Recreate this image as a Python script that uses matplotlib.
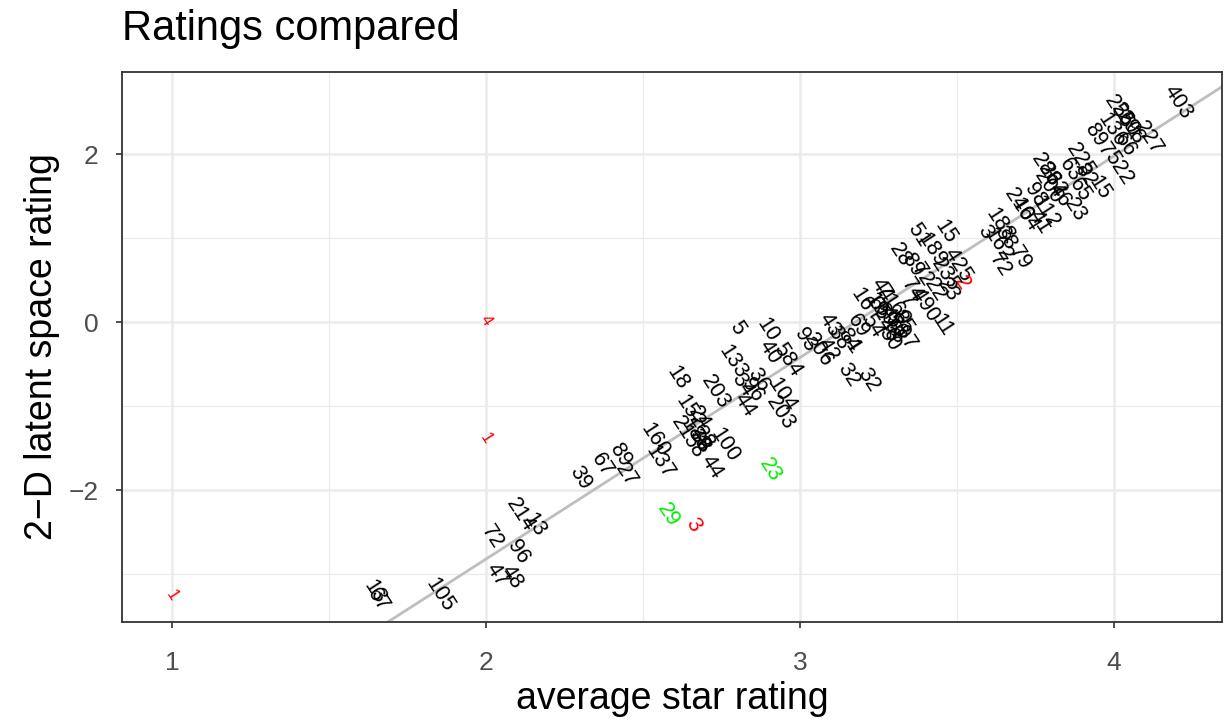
import numpy as np
import matplotlib.pyplot as plt
from matplotlib.ticker import MultipleLocator

plt.rcParams['font.family'] = ['Liberation Sans', 'DejaVu Sans']

# label text, average star rating, latent space rating, colour group
labels = ["403", "227", "255", "260", "298", "136", "66", "897", "522", "225",
          "63", "82", "15", "23", "65", "288", "262", "200", "46", "98",
          "112", "41", "240", "164", "188", "38", "3", "162", "79", "72",
          "15", "425", "2", "51", "189", "28", "89", "72", "235", "23",
          "22", "74", "490", "11", "16", "44", "19", "69", "97", "47",
          "56", "46", "65", "60", "58", "85", "30", "7", "54", "71",
          "43", "38", "84", "1", "42", "206", "93", "32", "32", "69",
          "5", "10", "40", "584", "133", "34", "96", "36", "44", "203",
          "104", "203", "18", "152", "24", "21", "188", "38", "58", "28",
          "100", "44", "160", "137", "89", "27", "67", "39", "23", "29",
          "3", "214", "13", "72", "96", "48", "47", "105", "13", "67",
          "1", "4", "1"]
star = [4.204, 4.108, 4.013, 4.035, 4.051, 3.994, 4.035, 3.949, 4.013, 3.892,
        3.860, 3.908, 3.955, 3.876, 3.892, 3.780, 3.803, 3.790, 3.828, 3.748,
        3.780, 3.764, 3.694, 3.717, 3.637, 3.653, 3.589, 3.630, 3.700, 3.637,
        3.462, 3.503, 3.516, 3.376, 3.420, 3.318, 3.357, 3.389, 3.462, 3.471,
        3.430, 3.357, 3.398, 3.452, 3.197, 3.261, 3.240, 3.270, 3.334, 3.290,
        3.305, 3.280, 3.250, 3.315, 3.300, 3.325, 3.285, 3.340, 3.230, 3.275,
        3.096, 3.121, 3.153, 3.166, 3.089, 3.057, 3.016, 3.153, 3.217, 3.185,
        2.799, 2.898, 2.904, 2.959, 2.787, 2.815, 2.847, 2.866, 2.825, 2.729,
        2.943, 2.936, 2.611, 2.650, 2.680, 2.624, 2.665, 2.680, 2.660, 2.690,
        2.761, 2.720, 2.538, 2.554, 2.427, 2.446, 2.369, 2.299, 2.904, 2.580,
        2.659, 2.108, 2.156, 2.019, 2.102, 2.083, 2.035, 1.854, 1.646, 1.656,
        1.000, 2.000, 2.000]
latent = [2.62, 2.19, 2.50, 2.40, 2.31, 2.29, 2.11, 2.17, 1.83, 1.93,
          1.81, 1.75, 1.60, 1.33, 1.57, 1.81, 1.69, 1.60, 1.51, 1.51,
          1.31, 1.19, 1.39, 1.27, 1.15, 1.00, 1.07, 0.92, 0.76, 0.68,
          1.07, 0.68, 0.46, 1.04, 0.86, 0.80, 0.68, 0.56, 0.56, 0.38,
          0.38, 0.38, 0.20, -0.04, 0.26, 0.38, 0.20, 0.08, -0.19, 0.05,
          -0.05, -0.10, 0.15, 0.10, -0.12, 0.00, -0.20, 0.25, -0.05, 0.30,
          -0.04, -0.19, -0.21, -0.30, -0.33, -0.33, -0.21, -0.63, -0.69, -0.05,
          -0.07, -0.10, -0.36, -0.45, -0.48, -0.75, -0.81, -0.69, -0.99, -0.83,
          -0.87, -1.08, -0.67, -1.07, -1.14, -1.26, -1.35, -1.42, -1.48, -1.38,
          -1.46, -1.73, -1.40, -1.67, -1.58, -1.82, -1.70, -1.86, -1.76, -2.30,
          -2.42, -2.30, -2.42, -2.56, -2.74, -3.04, -3.01, -3.25, -3.21, -3.31,
          -3.25, 0.02, -1.38]
group = ["ok"] * 32 + ["low"] + ["ok"] * 65 + ["high", "high", "low"] + ["ok"] * 9 + ["few"] * 3

# fitted line: latent = slope * star + intercept
slope, intercept = 2.399, -7.62

colours = {"ok": "black", "low": "#FF0000", "few": "#FF0000", "high": "#00EE00"}
sizes = {"ok": 15.5, "low": 15.5, "few": 12, "high": 15.5}

fig = plt.figure(figsize=(12.31, 7.21), dpi=100)
ax = fig.add_axes([0.0991, 0.1373, 0.8936, 0.7628])

xlim = (0.841, 4.344)
ylim = (-3.571, 2.976)
xs = np.array(xlim)
ax.plot(xs, slope * xs + intercept, color="#BEBEBE", lw=2.0, zorder=2)

for t, x, y, g in zip(labels, star, latent, group):
    ax.text(x, y, t, color=colours[g], fontsize=sizes[g], rotation=-57,
            rotation_mode="anchor", ha="center", va="center", zorder=3)

ax.set_xlim(*xlim)
ax.set_ylim(*ylim)
ax.xaxis.set_major_locator(MultipleLocator(1))
ax.xaxis.set_minor_locator(MultipleLocator(0.5))
ax.yaxis.set_major_locator(MultipleLocator(2))
ax.yaxis.set_minor_locator(MultipleLocator(1))
ax.set_yticks([-2, 0, 2])
ax.set_yticklabels(["\u22122", "0", "2"])
ax.grid(which="major", color="#EBEBEB", lw=1.8, zorder=0)
ax.grid(which="minor", color="#EBEBEB", lw=0.9, zorder=0)
ax.set_axisbelow(True)
ax.tick_params(which="major", length=4, width=1.2, color="#333333",
               labelsize=19, labelcolor="#4D4D4D")
ax.tick_params(axis="x", which="major", pad=17)
ax.tick_params(axis="y", which="major", pad=13)
ax.tick_params(which="minor", length=0)
for s in ax.spines.values():
    s.set_color("#333333")
    s.set_linewidth(1.3)

ax.set_xlabel("average star rating", fontsize=27, labelpad=4)
ax.set_ylabel("2\u2212D latent space rating", fontsize=27, labelpad=6)
fig.text(0.0991, 0.945, "Ratings compared", fontsize=30, ha="left", va="baseline")

fig.savefig("out.png", dpi=100)
